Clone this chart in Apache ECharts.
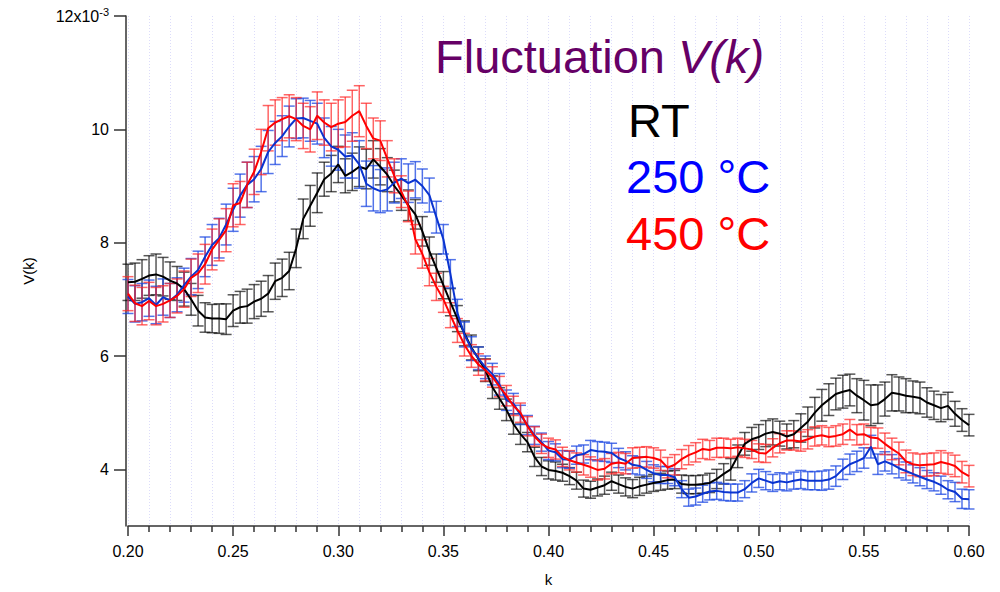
<!DOCTYPE html>
<html><head><meta charset="utf-8">
<script src="https://cdn.jsdelivr.net/npm/echarts@6/dist/echarts.min.js"></script>
<style>html,body{margin:0;padding:0;background:#fff}#c{width:1000px;height:592px}</style>
</head><body><div id="c"></div>
<script>
// k sampling grid
const K_START = 0.2;
const K_STEP = 1 / 300;

// V(k) values in units of 1e-3
const rtV = [
  7.30,7.31,7.36,7.42,7.44,7.40,7.33,7.28,7.18,7.00,
  6.80,6.68,6.66,6.66,6.65,6.80,6.86,6.88,6.96,7.01,
  7.10,7.32,7.38,7.50,7.90,8.42,8.65,8.88,9.12,9.22,
  9.38,9.18,9.25,9.34,9.30,9.47,9.34,9.20,9.00,8.84,
  8.66,8.50,8.20,7.85,7.55,7.25,6.95,6.66,6.40,6.15,
  5.95,5.75,5.45,5.25,5.05,4.80,4.62,4.48,4.22,4.05,
  3.99,3.97,3.94,3.88,3.80,3.66,3.64,3.68,3.72,3.79,
  3.74,3.69,3.66,3.70,3.73,3.76,3.78,3.81,3.82,3.74,
  3.73,3.73,3.74,3.76,3.83,3.92,4.00,4.23,4.45,4.53,
  4.57,4.63,4.66,4.63,4.58,4.62,4.73,4.84,5.00,5.13,
  5.23,5.33,5.37,5.40,5.30,5.22,5.13,5.15,5.24,5.35,
  5.33,5.30,5.28,5.26,5.18,5.13,5.08,5.12,4.98,4.87,
  4.78
];
const rtErr = [
  0.32,0.33,0.34,0.35,0.36,0.34,0.33,0.30,0.30,0.28,
  0.27,0.26,0.25,0.26,0.27,0.28,0.28,0.30,0.30,0.31,
  0.32,0.32,0.33,0.33,0.34,0.35,0.36,0.35,0.30,0.32,
  0.32,0.30,0.33,0.35,0.35,0.33,0.32,0.30,0.28,0.27,
  0.27,0.26,0.26,0.25,0.25,0.24,0.24,0.23,0.22,0.22,
  0.21,0.20,0.20,0.19,0.19,0.18,0.18,0.17,0.17,0.16,
  0.16,0.16,0.15,0.15,0.15,0.15,0.15,0.15,0.16,0.16,
  0.16,0.16,0.16,0.16,0.15,0.15,0.15,0.16,0.16,0.16,
  0.16,0.16,0.16,0.17,0.17,0.18,0.19,0.20,0.20,0.21,
  0.22,0.23,0.23,0.22,0.22,0.24,0.25,0.26,0.27,0.28,
  0.28,0.28,0.29,0.28,0.30,0.35,0.36,0.34,0.30,0.32,
  0.30,0.30,0.28,0.28,0.26,0.25,0.24,0.24,0.22,0.20,
  0.19
];
const c250V = [
  7.05,6.92,6.95,7.02,6.90,7.04,6.98,7.08,7.25,7.40,
  7.52,7.75,7.96,8.08,8.32,8.58,8.83,9.02,9.12,9.30,
  9.60,9.76,9.88,10.05,10.19,10.20,10.15,10.10,9.85,9.70,
  9.64,9.52,9.54,9.38,9.04,8.96,8.91,8.94,9.06,9.13,
  9.05,9.11,9.00,8.84,8.45,8.06,7.45,6.76,6.38,6.13,
  5.96,5.80,5.68,5.50,5.22,5.16,4.96,4.78,4.60,4.48,
  4.33,4.30,4.18,4.17,4.25,4.27,4.34,4.32,4.31,4.29,
  4.20,4.15,4.08,4.06,3.99,3.93,3.90,3.90,3.86,3.65,
  3.50,3.52,3.57,3.61,3.62,3.60,3.59,3.59,3.65,3.76,
  3.84,3.80,3.76,3.79,3.77,3.80,3.82,3.80,3.80,3.80,
  3.82,3.88,4.00,4.09,4.14,4.20,4.40,4.09,4.14,4.09,
  4.02,3.97,3.92,3.87,3.82,3.78,3.72,3.64,3.60,3.48,
  3.47
];
const c250Err = [
  0.30,0.32,0.33,0.32,0.33,0.32,0.30,0.30,0.30,0.32,
  0.33,0.35,0.36,0.35,0.36,0.38,0.38,0.40,0.40,0.40,
  0.38,0.38,0.36,0.36,0.35,0.35,0.36,0.36,0.35,0.35,
  0.36,0.38,0.40,0.42,0.40,0.40,0.38,0.38,0.36,0.35,
  0.34,0.32,0.30,0.30,0.28,0.26,0.25,0.24,0.22,0.21,
  0.20,0.20,0.19,0.19,0.18,0.18,0.17,0.17,0.16,0.16,
  0.16,0.15,0.15,0.15,0.16,0.16,0.17,0.17,0.17,0.17,
  0.17,0.16,0.16,0.16,0.15,0.15,0.15,0.15,0.15,0.15,
  0.15,0.15,0.15,0.15,0.15,0.15,0.15,0.15,0.15,0.16,
  0.16,0.16,0.15,0.15,0.15,0.15,0.16,0.16,0.16,0.17,
  0.17,0.18,0.18,0.18,0.18,0.18,0.20,0.18,0.17,0.17,
  0.17,0.16,0.16,0.16,0.16,0.16,0.16,0.16,0.17,0.17,
  0.17
];
const c450V = [
  7.10,6.93,6.88,6.97,6.88,6.92,6.98,7.06,7.18,7.38,
  7.46,7.62,7.88,8.05,8.22,8.66,8.70,9.02,9.25,9.60,
  10.02,10.12,10.18,10.23,10.18,10.06,10.00,10.24,10.12,10.04,
  10.10,10.13,10.24,10.32,10.06,9.84,9.80,9.48,9.18,8.90,
  8.64,8.06,7.80,7.48,7.22,7.00,6.72,6.45,6.20,6.00,
  5.85,5.75,5.63,5.46,5.30,5.12,5.00,4.76,4.58,4.45,
  4.38,4.35,4.22,4.16,4.12,4.08,4.04,3.99,4.01,4.10,
  4.12,4.10,4.20,4.21,4.22,4.20,4.16,4.03,4.08,4.18,
  4.25,4.30,4.36,4.34,4.38,4.38,4.37,4.39,4.37,4.35,
  4.29,4.28,4.38,4.46,4.51,4.51,4.49,4.53,4.58,4.60,
  4.57,4.59,4.62,4.70,4.61,4.62,4.56,4.55,4.45,4.36,
  4.28,4.14,4.09,4.07,4.08,4.09,4.13,4.10,4.06,3.95,
  3.88
];
const c450Err = [
  0.30,0.32,0.33,0.33,0.33,0.32,0.30,0.30,0.32,0.33,
  0.34,0.35,0.36,0.37,0.38,0.38,0.38,0.40,0.40,0.40,
  0.40,0.40,0.38,0.38,0.38,0.40,0.40,0.42,0.40,0.42,
  0.42,0.44,0.45,0.45,0.40,0.36,0.35,0.32,0.30,0.28,
  0.27,0.26,0.25,0.24,0.24,0.23,0.22,0.21,0.20,0.20,
  0.19,0.19,0.18,0.18,0.18,0.17,0.17,0.17,0.17,0.17,
  0.17,0.17,0.17,0.17,0.17,0.18,0.18,0.18,0.18,0.18,
  0.18,0.18,0.18,0.18,0.18,0.18,0.18,0.18,0.18,0.17,
  0.17,0.17,0.17,0.17,0.17,0.17,0.16,0.16,0.16,0.16,
  0.16,0.16,0.16,0.17,0.17,0.17,0.17,0.17,0.17,0.17,
  0.17,0.18,0.18,0.18,0.18,0.18,0.18,0.18,0.19,0.19,
  0.20,0.20,0.20,0.20,0.20,0.20,0.20,0.19,0.19,0.19,
  0.19
];

const yTickValues = [4, 6, 8, 10, 12];
const seriesNames = ['RT', '250 °C', '450 °C'];
const lineColors = ['#000000', '#0a34d0', '#ff0000'];
const barColors = ['rgba(0,0,0,0.66)', 'rgba(25,70,225,0.75)', 'rgba(255,35,35,0.7)'];
const labelColors = ['#000000', '#0000ff', '#ff0000'];

const FONT = '"Liberation Sans", Arial, sans-serif';

function toPairs(vals) { return vals.map((v, i) => [K_START + i * K_STEP, v]); }
function toTriples(vals, errs) { return vals.map((v, i) => [K_START + i * K_STEP, v, errs[i]]); }

function renderErr(params, api) {
  const x = api.value(0), v = api.value(1), e = api.value(2);
  const top = api.coord([x, v + e]);
  const bot = api.coord([x, v - e]);
  const hw = 5.5;
  const style = { stroke: api.visual('color'), lineWidth: 1.5, fill: null };
  return {
    type: 'group',
    children: [
      { type: 'line', shape: { x1: top[0], y1: top[1], x2: bot[0], y2: bot[1] }, style: style },
      { type: 'line', shape: { x1: top[0] - hw, y1: top[1], x2: top[0] + hw, y2: top[1] }, style: style },
      { type: 'line', shape: { x1: bot[0] - hw, y1: bot[1], x2: bot[0] + hw, y2: bot[1] }, style: style }
    ]
  };
}

const allV = [rtV, c250V, c450V];
const allE = [rtErr, c250Err, c450Err];

const series = [];
allV.forEach((vals, s) => {
  series.push({
    name: seriesNames[s] + ' err',
    type: 'custom',
    renderItem: renderErr,
    data: toTriples(vals, allE[s]),
    encode: { x: 0, y: 1 },
    itemStyle: { color: barColors[s] },
    z: 2 + s,
    silent: true
  });
});
allV.forEach((vals, s) => {
  series.push({
    name: seriesNames[s],
    type: 'line',
    data: toPairs(vals),
    showSymbol: false,
    lineStyle: { color: lineColors[s], width: 2 },
    itemStyle: { color: lineColors[s] },
    z: 10 + s,
    silent: true
  });
});

const labelStyle = (c) => ({ fontFamily: FONT, fontSize: 47, fontWeight: 'normal', color: c, lineHeight: 47 });

const chart = echarts.init(document.getElementById('c'), null, { renderer: 'svg' });
chart.setOption({
  animation: false,
  backgroundColor: '#ffffff',
  grid: { left: 128, right: 31, top: 16, bottom: 60, containLabel: false },
  title: [
    {
      text: '{n|Fluctuation }{i|V(k)}',
      left: 435, top: 33, padding: 0,
      textStyle: {
        fontWeight: 'normal',
        rich: {
          n: { fontFamily: FONT, fontSize: 47, fontWeight: 'normal', color: '#660066', lineHeight: 47 },
          i: { fontFamily: FONT, fontSize: 47, fontWeight: 'normal', color: '#660066', fontStyle: 'italic', lineHeight: 47 }
        }
      }
    },
    { text: seriesNames[0], left: 628, top: 97, padding: 0, textStyle: labelStyle(labelColors[0]) },
    { text: seriesNames[1], left: 626, top: 153, padding: 0, textStyle: labelStyle(labelColors[1]) },
    { text: seriesNames[2], left: 626, top: 210, padding: 0, textStyle: labelStyle(labelColors[2]) }
  ],
  xAxis: {
    type: 'value',
    min: 0.2, max: 0.6, interval: 0.05,
    name: 'k', nameLocation: 'middle', nameGap: 46,
    nameTextStyle: { fontFamily: FONT, fontSize: 15, color: '#000' },
    axisLine: { show: true, onZero: false, lineStyle: { color: '#333', width: 1.5 } },
    axisTick: { show: true, inside: false, length: 10, lineStyle: { color: '#333', width: 1.5 } },
    minorTick: { show: true, splitNumber: 5, length: 6, lineStyle: { color: '#333', width: 1.5 } },
    axisLabel: { fontFamily: FONT, fontSize: 16, color: '#000', margin: 17,
      formatter: v => v.toFixed(2) },
    splitLine: { show: true, lineStyle: { color: '#dcdcfa', width: 1, type: [1, 2] } },
    minorSplitLine: { show: true, lineStyle: { color: '#dcdcfa', width: 1, type: [1, 2] } }
  },
  yAxis: {
    type: 'value',
    min: 3, max: 12,
    offset: 2,
    name: 'V(k)', nameLocation: 'middle', nameGap: 90, nameRotate: 90,
    nameTextStyle: { fontFamily: FONT, fontSize: 15, color: '#000' },
    axisLine: { show: true, onZero: false, lineStyle: { color: '#333', width: 1.5 } },
    axisTick: { show: true, inside: false, length: 12, customValues: yTickValues,
      lineStyle: { color: '#333', width: 1.5 } },
    axisLabel: {
      fontFamily: FONT, fontSize: 16, color: '#000', margin: 17,
      customValues: yTickValues,
      formatter: v => (v === 12 ? '{a|12x10}{s|-3}' : String(v)),
      rich: {
        a: { fontFamily: FONT, fontSize: 16, color: '#000' },
        s: { fontFamily: FONT, fontSize: 11, color: '#000', verticalAlign: 'bottom', padding: [0, 0, 9, 0] }
      }
    },
    splitLine: { show: false }
  },
  series: series
});
</script>
</body></html>
